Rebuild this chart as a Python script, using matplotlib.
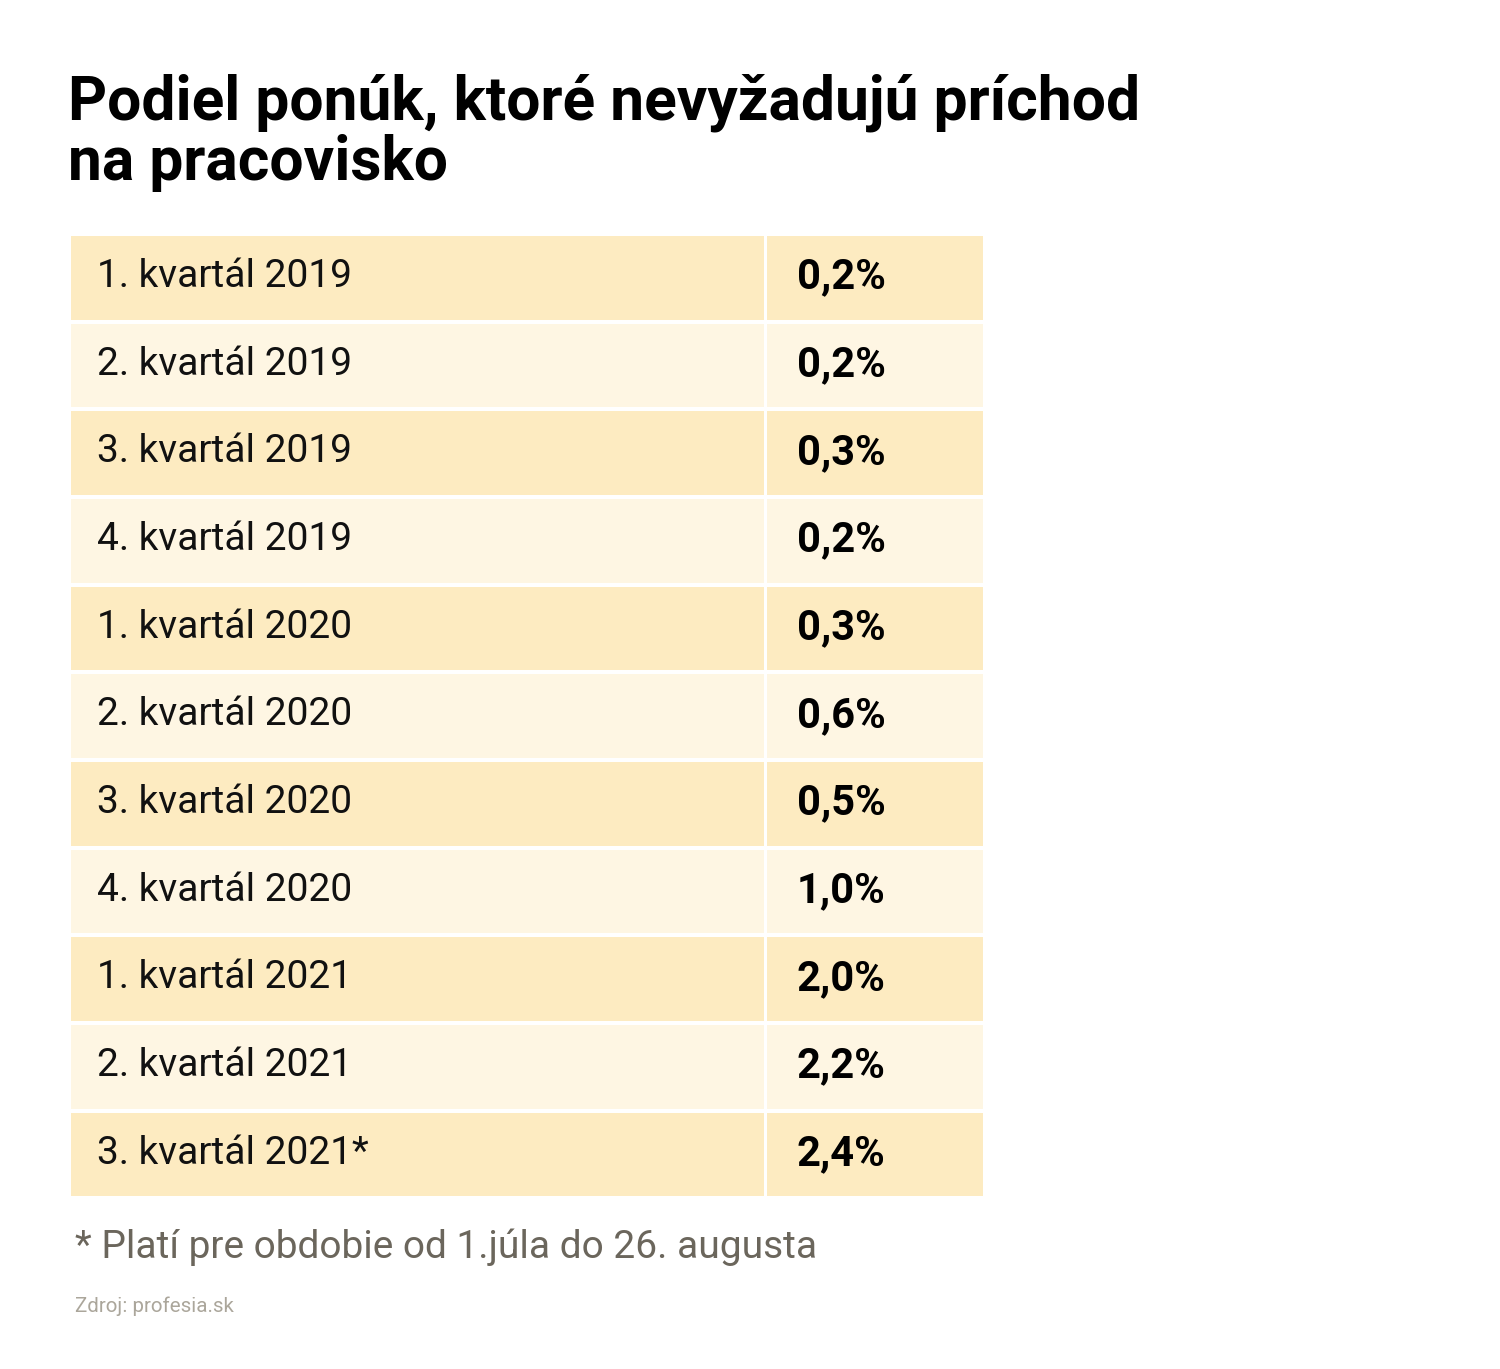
import matplotlib
matplotlib.use("Agg")
import matplotlib.pyplot as plt
from matplotlib.patches import Rectangle

categories = ["1. kvartál 2019", "2. kvartál 2019", "3. kvartál 2019", "4. kvartál 2019",
              "1. kvartál 2020", "2. kvartál 2020", "3. kvartál 2020", "4. kvartál 2020",
              "1. kvartál 2021", "2. kvartál 2021", "3. kvartál 2021*"]
values = [0.2, 0.2, 0.3, 0.2, 0.3, 0.6, 0.5, 1.0, 2.0, 2.2, 2.4]

title_lines = ["Podiel ponúk, ktoré nevyžadujú príchod", "na pracovisko"]
footnote = "* Platí pre obdobie od 1.júla do 26. augusta"
source = "Zdroj: profesia.sk"

W, H = 1500, 1369
fig = plt.figure(figsize=(W / 100, H / 100), dpi=100)
ax = fig.add_axes([0, 0, 1, 1])
ax.set_xlim(0, W)
ax.set_ylim(H, 0)
ax.axis("off")

dark = "#FDEBC1"
light = "#FEF6E3"

top = 236
pitch = 87.67
gap = 4
x0, xsplit, x1 = 71, 765.8, 983.3

for i, (cat, val) in enumerate(zip(categories, values)):
    y = top + i * pitch
    col = dark if i % 2 == 0 else light
    ax.add_patch(Rectangle((x0, y), xsplit - x0 - 1.5, pitch - gap, color=col, lw=0))
    ax.add_patch(Rectangle((xsplit + 1.5, y), x1 - xsplit - 1.5, pitch - gap, color=col, lw=0))
    ax.text(97, y + 51, cat, fontsize=28, family="Roboto", color="#111111", va="baseline", ha="left")
    ax.text(797, y + 52.5, f"{val:.1f}%".replace(".", ","), fontsize=30, family="Roboto",
            fontweight="bold", color="#000000", va="baseline", ha="left")

ax.text(68, 120, title_lines[0], fontsize=43.6, family="Roboto", fontweight="bold", color="#000000",
        va="baseline", ha="left")
ax.text(68, 180, title_lines[1], fontsize=43.6, family="Roboto", fontweight="bold", color="#000000",
        va="baseline", ha="left")

ax.text(75, 1258, footnote, fontsize=28, family="Roboto", color="#6B665C", va="baseline", ha="left")
ax.text(75, 1312, source, fontsize=14.8, family="Roboto", color="#ABA69B", va="baseline", ha="left")

fig.savefig("out.png", dpi=100, facecolor="white")
